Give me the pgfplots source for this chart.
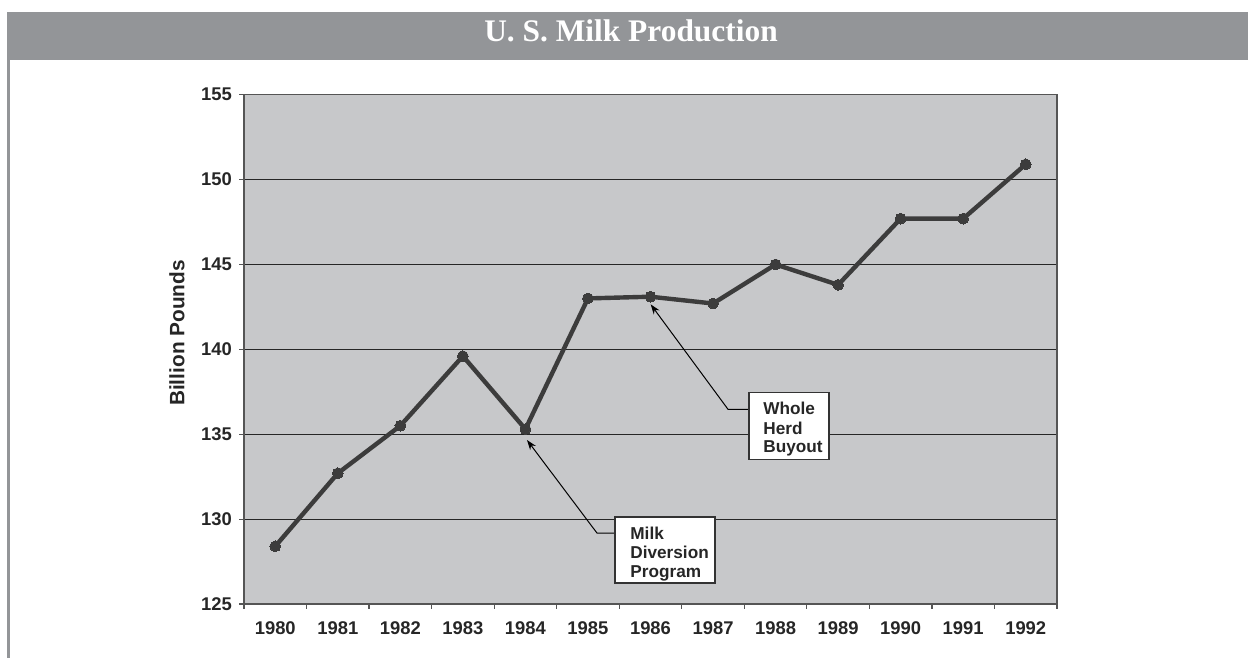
\documentclass[border=0pt]{standalone}
\usepackage{fontspec}
\setmainfont{Liberation Sans}
\newfontfamily\titlefont{Liberation Serif}
\usepackage{pgfplots}
\pgfplotsset{compat=1.18}
\usetikzlibrary{arrows.meta}

\definecolor{barGray}{RGB}{147,149,152}
\definecolor{plotBg}{RGB}{199,200,202}
\definecolor{lineGray}{RGB}{60,60,60}
\definecolor{frameGray}{RGB}{85,85,85}

\begin{document}
\begin{tikzpicture}
  % page frame: 1px = 0.5pt
  \path[use as bounding box] (0pt,0pt) rectangle (624pt,329pt);
  \fill[barGray] (3.5pt,299pt) rectangle (624pt,323pt);
  \fill[barGray] (3.5pt,0pt) rectangle (5pt,299pt);
  \node[anchor=base, text=white, inner sep=0pt,
        font=\titlefont\bfseries\fontsize{15.7}{18}\selectfont]
        at (315.5pt,308pt) {U. S. Milk Production};

  \begin{axis}[
    at={(122pt,27pt)}, anchor=south west,
    scale only axis, width=406.5pt, height=254.65pt,
    xmin=-0.5, xmax=12.5, ymin=125, ymax=155,
    xtick={-0.5,0.5,...,12.5},
    x tick label as interval,
    xticklabels={1980,1981,1982,1983,1984,1985,1986,1987,1988,1989,1990,1991,1992},
    ytick={125,130,...,155},
    xtick pos=bottom, ytick pos=left,
    tick align=outside, major tick length=2.5pt,
    tick style={frameGray, line width=0.6pt},
    ymajorgrids,
    grid style={black!85, line width=0.6pt},
    axis line style={frameGray, line width=0.8pt},
    axis background/.style={fill=plotBg},
    /pgf/number format/assume math mode=true,
    ticklabel style={font=\bfseries\fontsize{9.2}{11}\selectfont, text=black!85},
    xticklabel style={yshift=-3pt},
    ylabel={Billion Pounds},
    ylabel style={font=\bfseries\fontsize{10.4}{12}\selectfont, text=black!85,
                  at={(axis description cs:-0.0824,0.532)}, anchor=center},
  ]

    % milk production, billion pounds
    \addplot[lineGray, line width=2.2pt, line join=round,
             mark=*, mark size=2.7pt,
             mark options={fill=lineGray, draw=lineGray, line width=0pt}]
      coordinates {(0,128.4) (1,132.7) (2,135.5) (3,139.6) (4,135.3)
                   (5,143.0) (6,143.1) (7,142.7) (8,145.0) (9,143.8)
                   (10,147.7) (11,147.7) (12,150.9)};

    % callout: Milk Diversion Program
    \draw[black, line width=0.5pt, -{Stealth[length=5pt,width=3.5pt]}]
      (axis cs:5.432,129.18) -- (axis cs:5.144,129.18) -- (axis cs:4.025,134.66);
    \draw[fill=white, draw=black!80, line width=0.6pt]
      (axis cs:5.432,130.12) rectangle (axis cs:7.031,126.24);
    \begin{scope}[every node/.style={anchor=base west, inner sep=0pt,
                  font=\bfseries\fontsize{8.6}{10}\selectfont, text=black!85}]
      \node at (axis cs:5.672,128.81) {Milk};
      \node at (axis cs:5.672,127.69) {Diversion};
      \node at (axis cs:5.672,126.57) {Program};
    \end{scope}

    % callout: Whole Herd Buyout
    \draw[black, line width=0.5pt, -{Stealth[length=5pt,width=3.5pt]}]
      (axis cs:7.575,136.47) -- (axis cs:7.239,136.47) -- (axis cs:6.003,142.65);
    \draw[fill=white, draw=black!80, line width=0.6pt]
      (axis cs:7.575,137.44) rectangle (axis cs:8.854,133.52);
    \begin{scope}[every node/.style={anchor=base west, inner sep=0pt,
                  font=\bfseries\fontsize{8.6}{10}\selectfont, text=black!85}]
      \node at (axis cs:7.799,136.17) {Whole};
      \node at (axis cs:7.799,135.01) {Herd};
      \node at (axis cs:7.799,133.95) {Buyout};
    \end{scope}

  \end{axis}
\end{tikzpicture}
\end{document}
